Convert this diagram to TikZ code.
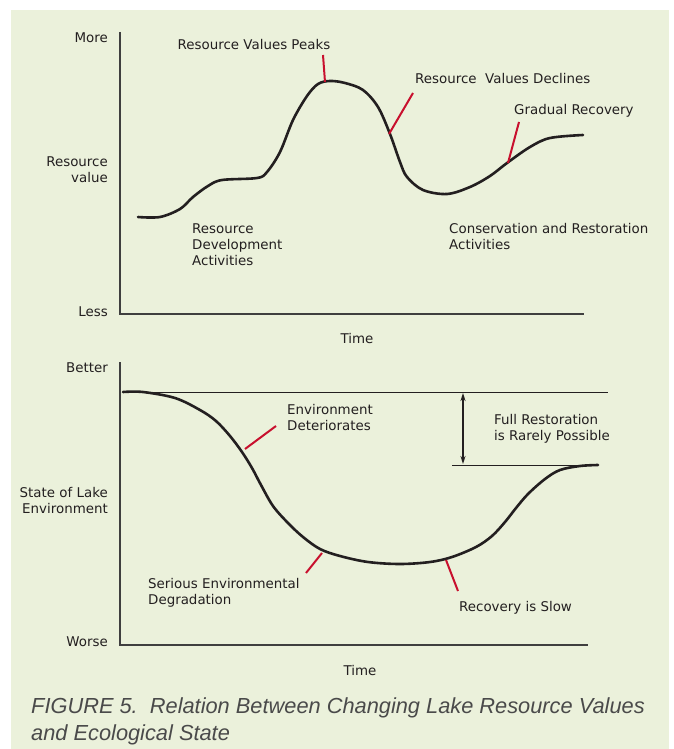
\documentclass[tikz,border=0pt]{standalone}
\usepackage{fontspec}
\setmainfont{DejaVu Sans}
\newfontfamily\figcaptionfont{Liberation Sans}
\usetikzlibrary{arrows.meta,positioning}

\definecolor{panelgreen}{HTML}{EBF1DB}
\definecolor{leadred}{HTML}{C8102E}
\definecolor{curveblack}{HTML}{231F20}
\definecolor{axisgray}{HTML}{3F3F3F}
\definecolor{captiongray}{HTML}{4A4A4A}

\tikzset{
  lbl/.style={font=\fontsize{13.4}{16}\selectfont, text=curveblack, inner sep=0pt, align=left},
  axislbl/.style={lbl, align=right, anchor=east},
  axisline/.style={axisgray, line width=1.1pt},
  trend/.style={curveblack, line width=2.6pt, line cap=round},
  leader/.style={leadred, line width=2pt},
  refline/.style={curveblack, line width=1pt}
}

\begin{document}
\begin{tikzpicture}[x=1pt,y=-1pt]
			\useasboundingbox (0,0) rectangle (674,749);
			\fill[panelgreen] (11,10) rectangle (669,749);

			% upper panel: axes
			\coordinate (ua-top) at (120,32);
			\coordinate (ua-org) at (120,314);
			\coordinate (ua-end) at (584,314);
			\draw[axisline] (ua-top)--(ua-org)--(ua-end);
			\node[axislbl] (more) at (108,38) {More};
			\node[axislbl] (resval) at (108,170) {Resource\\value};
			\node[axislbl] (less) at (108,312) {Less};
			\node[lbl] (time1) at (357,339) {Time};

			% upper panel: resource value curve
			\draw[trend] plot[smooth, tension=0.55] coordinates {
				(138,217) (160,217) (180,209) (193,197) (208,186) (222,180) (257,178)
				(267,172) (280,152) (293,120) (307,96) (318,84) (330,81) (345,83)
				(363,90) (378,107) (390,134) (400,162) (407,177) (423,190) (447,194)
				(470,187) (490,176) (507,163) (530,147) (550,138) (583,135)};

			% upper panel: labels and leaders
			\node[lbl] (peaks) at (254,45) {Resource Values Peaks};
			\node[lbl, anchor=west] (declines) at (415,79) {Resource\ \ Values Declines};
			\node[lbl, anchor=west] (gradual) at (514,111) {Gradual Recovery};
			\node[lbl, anchor=west] (develop) at (192,245) {Resource\\Development\\Activities};
			\node[lbl, anchor=west] (conserve) at (449,237) {Conservation and Restoration\\Activities};
			\coordinate (peaks-a) at (323,55);
			\coordinate (peaks-b) at (325,82);
			\coordinate (declines-a) at (413,93);
			\coordinate (declines-b) at (389,134);
			\coordinate (gradual-a) at (519,122);
			\coordinate (gradual-b) at (508,163);
			\draw[leader] (peaks-a)--(peaks-b);
			\draw[leader] (declines-a)--(declines-b);
			\draw[leader] (gradual-a)--(gradual-b);

			% lower panel: axes
			\coordinate (la-top) at (120,362);
			\coordinate (la-org) at (120,645);
			\coordinate (la-end) at (588,645);
			\draw[axisline] (la-top)--(la-org)--(la-end);
			\node[axislbl] (better) at (108,368) {Better};
			\node[axislbl] (lakestate) at (108,500) {State of Lake\\Environment};
			\node[axislbl] (worse) at (108,642) {Worse};
			\node[lbl] (time2) at (360,670) {Time};

			% lower panel: reference levels
			\coordinate (orig-a) at (123,392);
			\coordinate (orig-b) at (608,392);
			\coordinate (rest-a) at (452,465);
			\coordinate (rest-b) at (598,465);
			\draw[refline] (orig-a)--(orig-b);
			\draw[refline] (rest-a)--(rest-b);
			\coordinate (gap-top) at (463,393);
			\coordinate (gap-bot) at (463,464);
			\draw[refline, line width=1.6pt, {Stealth[length=8pt,width=5pt]}-{Stealth[length=8pt,width=5pt]}] (gap-top)--(gap-bot);

			% lower panel: lake state curve
			\draw[trend] plot[smooth, tension=0.55] coordinates {
				(123,392) (143,392) (175,398) (200,410) (216,421) (230,436) (242,452)
				(252,468) (261,485) (273,506) (288,523) (303,537) (320,549) (340,556)
				(368,562) (400,564) (430,562) (452,557) (476,547) (492,536) (505,522)
				(516,508) (528,494) (545,479) (560,470) (580,466) (598,465)};

			% lower panel: labels and leaders
			\node[lbl, anchor=west] (deteriorate) at (287,417) {Environment\\Deteriorates};
			\node[lbl, anchor=west] (fullrest) at (494,429) {Full Restoration\\is Rarely Possible};
			\node[lbl, anchor=west] (serious) at (148,593) {Serious Environmental\\Degradation};
			\node[lbl, anchor=west] (slow) at (459,608) {Recovery is Slow};
			\coordinate (deteriorate-a) at (276,426);
			\coordinate (deteriorate-b) at (245,449);
			\coordinate (serious-a) at (322,553);
			\coordinate (serious-b) at (306,573);
			\coordinate (slow-a) at (446,560);
			\coordinate (slow-b) at (458,591);
			\draw[leader] (deteriorate-a)--(deteriorate-b);
			\draw[leader] (serious-a)--(serious-b);
			\draw[leader] (slow-a)--(slow-b);

			% caption
			\node[anchor=west, inner sep=0pt, align=left, text=captiongray,
				font=\figcaptionfont\itshape\fontsize{21.8}{27}\selectfont] (caption) at (31,721)
				{FIGURE 5.\ \ Relation Between Changing Lake Resource Values\\and Ecological State};
		\end{tikzpicture}
\end{document}
